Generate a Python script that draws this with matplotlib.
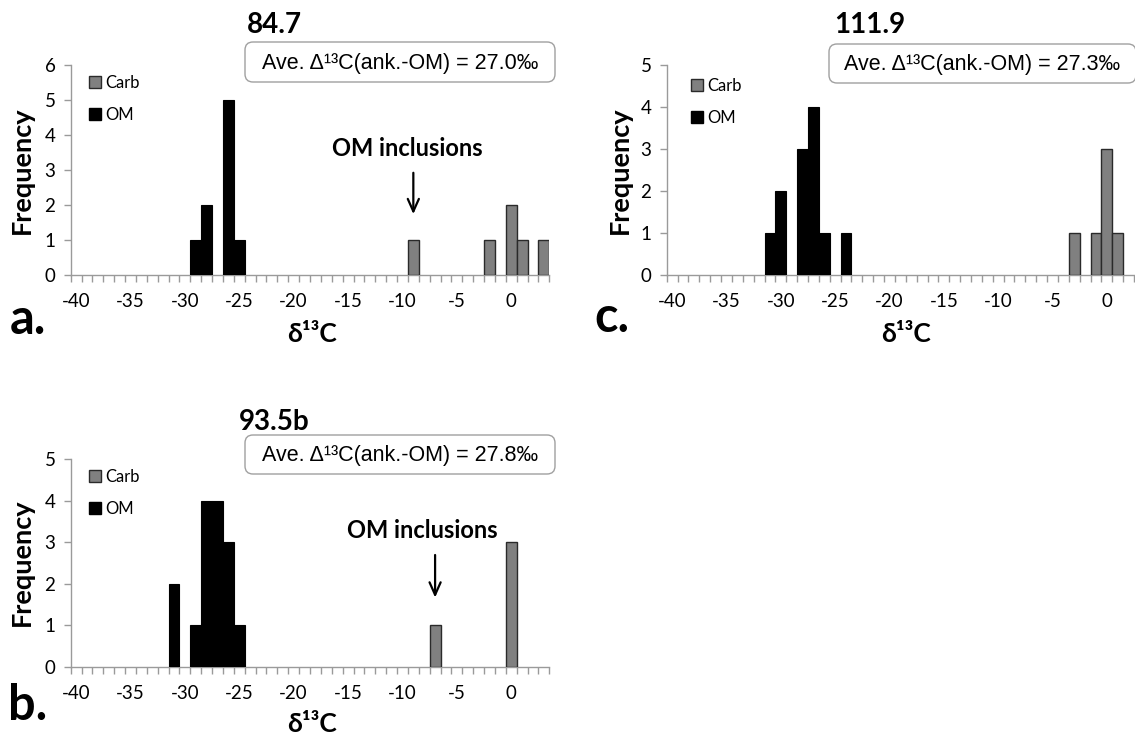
import numpy as np
import matplotlib as mpl
import matplotlib.pyplot as plt
from matplotlib.patches import FancyBboxPatch, Patch

mpl.use("Agg")

# --- data (bin centre = integer delta13C value) ---
a_carb_d13c = [-9, -2, 0, 1, 3]
a_carb_freq = [1, 1, 2, 1, 1]
a_om_d13c = [-29, -28, -26, -25]
a_om_freq = [1, 2, 5, 1]

b_carb_d13c = [-7, 0]
b_carb_freq = [1, 3]
b_om_d13c = [-31, -29, -28, -27, -26, -25]
b_om_freq = [2, 1, 4, 4, 3, 1]

c_carb_d13c = [-3, -1, 0, 1]
c_carb_freq = [1, 1, 3, 1]
c_om_d13c = [-31, -30, -28, -27, -26, -24]
c_om_freq = [1, 2, 3, 4, 1, 1]

sample_names = ["84.7", "93.5b", "111.9"]
ave_offsets = [27.0, 27.8, 27.3]
y_max = [6, 5, 5]
x_max = [3, 3, 2]
x_tick_values = [-40, -35, -30, -25, -20, -15, -10, -5, 0]

W, H = 1135, 737
CALIBRI = ["Lato", "Open Sans", "DejaVu Sans"]
ARIAL = ["Liberation Sans", "DejaVu Sans"]
AXIS_GREY = "#9a9a9a"

plt.rcParams["axes.unicode_minus"] = False


def px(x, y):
    # pixel position (from top-left) -> inches for fig.dpi_scale_trans
    return x / 100, (H - y) / 100


def draw_panel(fig, rect, carb_x, carb_y, om_x, om_y, ymax, xmax, leg_xy):
    ax = fig.add_axes([rect[0] / W, (H - rect[3]) / H,
                       (rect[2] - rect[0]) / W, (rect[3] - rect[1]) / H])
    ax.bar(carb_x, carb_y, width=1.0, color="#808080", edgecolor="#2a2a2a",
           linewidth=1.0, label="Carb", zorder=3)
    ax.bar(om_x, om_y, width=1.0, color="black", edgecolor="black",
           linewidth=0.8, label="OM", zorder=3)
    ax.set_xlim(-40.5, xmax + 0.5)
    ax.set_ylim(0, ymax)
    ax.set_xticks(x_tick_values)
    ax.set_xticklabels([str(v) for v in x_tick_values], family=CALIBRI, fontsize=13.5)
    ax.set_xticks(np.arange(-40.5, xmax + 1.0, 1.0), minor=True)
    ax.tick_params(axis="x", which="major", length=0, pad=13)
    ax.tick_params(axis="x", which="minor", length=5, width=1, color=AXIS_GREY)
    ax.set_yticks(range(ymax + 1))
    ax.set_yticklabels([str(v) for v in range(ymax + 1)], family=CALIBRI, fontsize=13.5)
    ax.tick_params(axis="y", length=5, width=1, color=AXIS_GREY, pad=6)
    for side in ("top", "right"):
        ax.spines[side].set_visible(False)
    for side in ("left", "bottom"):
        ax.spines[side].set_color(AXIS_GREY)
        ax.spines[side].set_linewidth(1.0)
    handles = [Patch(facecolor="#808080", edgecolor="#2a2a2a", linewidth=1.0),
               Patch(facecolor="black", edgecolor="black")]
    ax.legend(handles, ["Carb", "OM"], loc="upper left",
              bbox_to_anchor=px(*leg_xy), bbox_transform=fig.dpi_scale_trans,
              frameon=False, prop={"family": CALIBRI, "size": 12},
              handlelength=0.7, handleheight=0.7, handletextpad=0.3,
              labelspacing=0.95, borderpad=0, borderaxespad=0)
    return ax


def add_box(fig, x0, y0, x1, y1, offset):
    box = FancyBboxPatch(px(x0, y1), (x1 - x0) / 100, (y1 - y0) / 100,
                         boxstyle="round,pad=0,rounding_size=0.08",
                         transform=fig.dpi_scale_trans, facecolor="white",
                         edgecolor="#a0a0a0", linewidth=1.0)
    fig.add_artist(box)
    fig.text(*px((x0 + x1) / 2, (y0 + y1) / 2 + 1), f"Ave. \u0394\u00b9\u00b3C(ank.-OM) = {offset:.1f}\u2030",
             transform=fig.dpi_scale_trans, ha="center", va="center",
             family=ARIAL, fontsize=15.5)


def label(fig, x, y, s, size, **kw):
    fig.text(*px(x, y), s, transform=fig.dpi_scale_trans, ha="center", va="center",
             family=CALIBRI, fontsize=size, fontweight="bold", **kw)


fig = plt.figure(figsize=(W / 100, H / 100), dpi=100)

# a. 84.7
ax_a = draw_panel(fig, (70.7, 65, 549.3, 275), a_carb_d13c, a_carb_freq,
                  a_om_d13c, a_om_freq, y_max[0], x_max[0], (89, 75))
label(fig, 274, 25, sample_names[0], 20)
add_box(fig, 245, 42, 555, 82, ave_offsets[0])
label(fig, 22, 170, "Frequency", 19.5, rotation=90)
label(fig, 312, 334, "\u03b4\u00b9\u00b3C", 19)
label(fig, 28, 320, "a.", 35)
label(fig, 407, 148, "OM inclusions", 17)
ax_a.annotate("", xy=(-9, 1.66), xytext=(-9, 3.0),
              arrowprops=dict(arrowstyle="->,head_length=0.9,head_width=0.4",
                              color="black", lw=1.6))

# c. 111.9
ax_c = draw_panel(fig, (666.7, 65, 1134, 275), c_carb_d13c, c_carb_freq,
                  c_om_d13c, c_om_freq, y_max[2], x_max[2], (691, 78))
label(fig, 870, 25, sample_names[2], 20)
add_box(fig, 829, 44, 1136, 83, ave_offsets[2])
label(fig, 620, 170, "Frequency", 19.5, rotation=90)
label(fig, 906, 334, "\u03b4\u00b9\u00b3C", 19)
label(fig, 612, 318, "c.", 35)

# b. 93.5b
ax_b = draw_panel(fig, (70.7, 459.3, 549.3, 666.7), b_carb_d13c, b_carb_freq,
                  b_om_d13c, b_om_freq, y_max[1], x_max[1], (89, 469))
label(fig, 274, 422, sample_names[1], 20)
add_box(fig, 245, 435, 555, 474, ave_offsets[1])
label(fig, 22, 562, "Frequency", 19.5, rotation=90)
label(fig, 312, 724, "\u03b4\u00b9\u00b3C", 19)
label(fig, 28, 706, "b.", 35)
label(fig, 422, 531, "OM inclusions", 17)
ax_b.annotate("", xy=(-7, 1.6), xytext=(-7, 2.76),
              arrowprops=dict(arrowstyle="->,head_length=0.9,head_width=0.4",
                              color="black", lw=1.6))

fig.savefig("out.png", dpi=100)
